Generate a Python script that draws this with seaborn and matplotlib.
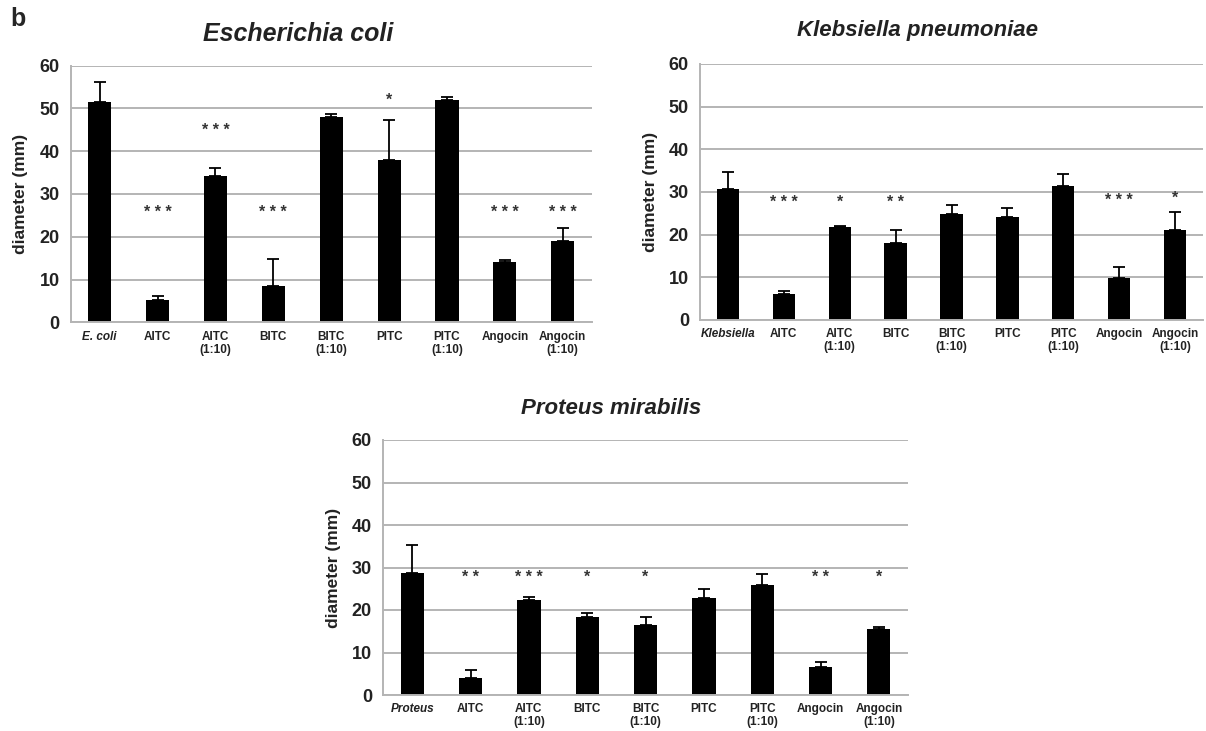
import matplotlib
matplotlib.use("Agg")
import matplotlib.pyplot as plt
import seaborn as sns
import pandas as pd
import numpy as np

sns.set_theme(style="white")
plt.rcParams['font.family'] = ['Liberation Sans', 'DejaVu Sans']

treatments = ["AITC", "AITC\n(1:10)", "BITC", "BITC\n(1:10)", "PITC", "PITC\n(1:10)",
              "Angocin", "Angocin\n(1:10)"]

ecoli_title = "Escherichia coli"
ecoli_cats = ["E. coli"] + treatments
ecoli_vals = [51.5, 5.2, 34.3, 8.6, 47.9, 38.0, 52.0, 14.1, 19.1]
ecoli_err = [4.6, 0.9, 1.7, 6.1, 0.8, 9.4, 0.7, 0.4, 3.0]
ecoli_stars = ["", "***", "***", "***", "", "*", "", "***", "***"]
ecoli_star_y = [0, 25.6, 44.9, 25.6, 0, 51.8, 0, 25.6, 25.6]

kleb_title = "Klebsiella pneumoniae"
kleb_cats = ["Klebsiella"] + treatments
kleb_vals = [30.7, 6.2, 21.8, 18.0, 24.9, 24.1, 31.3, 9.9, 21.0]
kleb_err = [4.1, 0.5, 0.3, 3.0, 2.1, 2.2, 3.0, 2.5, 4.4]
kleb_stars = ["", "***", "*", "**", "", "", "", "***", "*"]
kleb_star_y = [0, 27.6, 27.6, 27.6, 0, 0, 0, 27.9, 28.6]

prot_title = "Proteus mirabilis"
prot_cats = ["Proteus"] + treatments
prot_vals = [28.7, 4.1, 22.3, 18.4, 16.4, 22.9, 25.9, 6.6, 15.6]
prot_err = [6.7, 1.8, 0.7, 0.8, 2.0, 2.1, 2.5, 1.2, 0.4]
prot_stars = ["", "**", "***", "*", "*", "", "", "**", "*"]
prot_star_y = [0, 27.6, 27.6, 27.6, 27.6, 0, 0, 27.6, 27.6]

yticks = [0, 10, 20, 30, 40, 50, 60]

W, H = 1206, 731
fig = plt.figure(figsize=(W / 100, H / 100), dpi=100)

def rect(x0, x1, ytop, ybot):
    return [x0 / W, (H - ybot) / H, (x1 - x0) / W, (ybot - ytop) / H]

panels = [
    (rect(70.7, 591.7, 65.7, 322.3), 0.436, 18, 18, ecoli_title, ecoli_cats, ecoli_vals, ecoli_err, ecoli_stars, ecoli_star_y),
    (rect(700, 1203, 64, 320), 0.433, 16, 20, kleb_title, kleb_cats, kleb_vals, kleb_err, kleb_stars, kleb_star_y),
    (rect(383, 908, 440, 695), 0.435, 16, 19, prot_title, prot_cats, prot_vals, prot_err, prot_stars, prot_star_y),
]

grid_col = "#b4b4b4"
for pos, tx, tsize, tpad, title, cats, vals, err, stars, star_y in panels:
    ax = fig.add_axes(pos)
    df = pd.DataFrame({"cat": cats, "val": vals})
    sns.barplot(data=df, x="cat", y="val", color="black", width=0.4,
                errorbar=None, ax=ax, saturation=1, edgecolor="black", linewidth=0)
    xs = np.arange(len(cats))
    ax.errorbar(xs, vals, yerr=[np.zeros(len(err)), err], fmt="none",
                ecolor="black", elinewidth=1.3, capsize=4.5, capthick=1.3, zorder=3)
    for x, s, y in zip(xs, stars, star_y):
        if s:
            ax.text(x, y, " ".join(s), ha="center", va="center", fontsize=11.5,
                    fontweight="bold", color="#333333")
    ax.set_ylim(0, 60)
    ax.set_xlim(-0.5, len(cats) - 0.5)
    ax.set_yticks(yticks)
    ax.set_yticklabels([str(t) for t in yticks], fontsize=13, fontweight="bold",
                       color="#222222")
    ax.yaxis.grid(True, color=grid_col, linewidth=1.4)
    ax.set_axisbelow(True)
    ax.set_xticks(xs)
    ax.set_xticklabels(cats, fontsize=8.5, fontweight="bold", linespacing=1.1,
                       color="#222222")
    ax.get_xticklabels()[0].set_style("italic")
    ax.set_xticks(np.arange(len(cats) + 1) - 0.5, minor=True)
    ax.tick_params(axis="x", which="major", length=0, pad=6)
    ax.tick_params(axis="x", which="minor", length=3, color=grid_col, direction="out")
    ax.tick_params(axis="y", length=4, color=grid_col, pad=4)
    ax.set_xlabel("")
    ax.set_ylabel("diameter (mm)", fontsize=12.5, fontweight="bold", labelpad=8,
                  color="#222222")
    for side in ["top", "right"]:
        ax.spines[side].set_visible(False)
    for side in ["left", "bottom"]:
        ax.spines[side].set_color(grid_col)
        ax.spines[side].set_linewidth(1.4)
    ax.set_title(title, fontsize=tsize, fontweight="bold", style="italic", pad=tpad,
                 x=tx, color="#222222")

fig.text(18 / W, 1 - 19 / H, "b", fontsize=18, fontweight="bold", ha="center", va="center")

fig.savefig("out.png", dpi=100, facecolor="white")
